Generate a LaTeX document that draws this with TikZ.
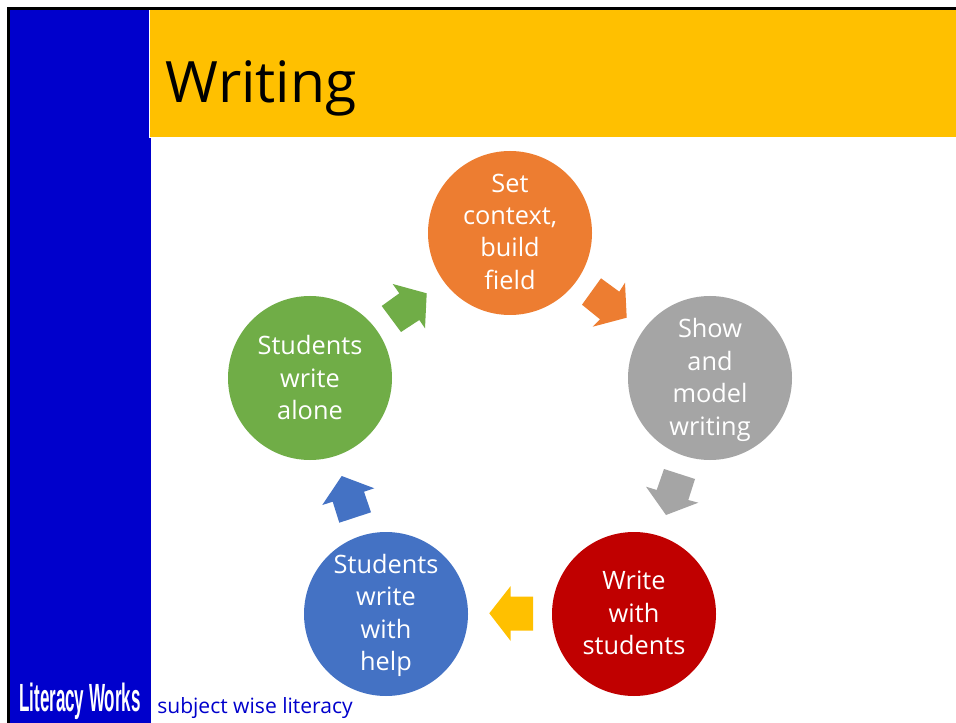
\documentclass[tikz,border=0pt]{standalone}
\usepackage{fontspec}
\setmainfont{Open Sans}
\newfontfamily\logofont{Liberation Sans}
\definecolor{cOrange}{HTML}{ED7D31}
\definecolor{cGray}{HTML}{A5A5A5}
\definecolor{cRed}{HTML}{C00000}
\definecolor{cBlue}{HTML}{4472C4}
\definecolor{cGreen}{HTML}{70AD47}
\definecolor{cYellow}{HTML}{FFC000}
\definecolor{cNavy}{HTML}{0000CC}
\tikzset{
  cyclenode/.style={circle,minimum size=123pt,inner sep=0pt},
  cyclelabel/.style={align=center,text=white,inner sep=0pt,
    font=\fontsize{19pt}{24.3pt}\selectfont},
  blockarrow/.style={draw=none}
}
\begin{document}
\begin{tikzpicture}[x=0.75pt,y=-0.75pt]
\useasboundingbox (0,0) rectangle (956,723);
\fill[white] (0,0) rectangle (956,723);
% frame and bands
\fill[black] (7,7) rectangle (956,723);
\fill[white] (10,10) rectangle (956,723);
\fill[cNavy] (10,10) rectangle (151,723);
\fill[white] (149,10) rectangle (956,138);
\fill[cYellow] (150,10) rectangle (956,137);
\node[anchor=base west,inner sep=0pt,font=\fontsize{42.8pt}{50pt}\selectfont] (title) at (165.5,103) {Writing};
% circles
\node[cyclenode,fill=cOrange,label={[cyclelabel,yshift=1pt]center:{Set\\context,\\build\\field}}] (n1) at (510,233) {};
\node[cyclenode,fill=cGray,label={[cyclelabel,yshift=-1.5pt]center:{Show\\and\\model\\writing}}] (n2) at (710,378) {};
\node[cyclenode,fill=cRed,label={[cyclelabel,yshift=0.7pt]center:{Write\\with\\students}}] (n3) at (634,614) {};
\node[cyclenode,fill=cBlue,label={[cyclelabel,yshift=-1pt]center:{Students\\write\\with\\help}}] (n4) at (386,614) {};
\node[cyclenode,fill=cGreen,label={[cyclelabel,yshift=0.3pt]center:{Students\\write\\alone}}] (n5) at (310,378) {};
% block arrows
\fill[cOrange,blockarrow] (601,278.3) -- (619.3,291.7) -- (625,282.7) -- (626.7,317.7) -- (592.7,326.7) -- (600,319.3) -- (582,304.7) -- cycle;
\fill[cGray,blockarrow] (664,469) -- (695,479) -- (688.3,500) -- (698.3,502.7) -- (666,515) -- (646,486.7) -- (656.7,490) -- cycle;
\fill[cYellow,blockarrow] (533,596.7) -- (533,630.7) -- (510.7,630.7) -- (510.7,641) -- (489.3,613.3) -- (510.7,586) -- (510.7,596.7) -- cycle;
\fill[cBlue,blockarrow] (371,512.3) -- (339.3,522.7) -- (332.7,501.7) -- (322.3,505) -- (341.7,476) -- (374.3,488.3) -- (364,491.7) -- cycle;
\fill[cGreen,blockarrow] (381.7,306) -- (399.3,293.3) -- (392.7,284) -- (426.7,293.3) -- (425,328.3) -- (419.3,320) -- (401,332) -- cycle;
% footer
\node[anchor=base,inner sep=0pt,text=white,xscale=0.432,font=\logofont\bfseries\fontsize{29.5pt}{32pt}\selectfont] (logo) at (80,711.5) {Literacy Works};
\node[anchor=base west,inner sep=0pt,text=cNavy,font=\fontsize{15.8pt}{18pt}\selectfont] (tag) at (157,713) {subject wise literacy};
\end{tikzpicture}
\end{document}
